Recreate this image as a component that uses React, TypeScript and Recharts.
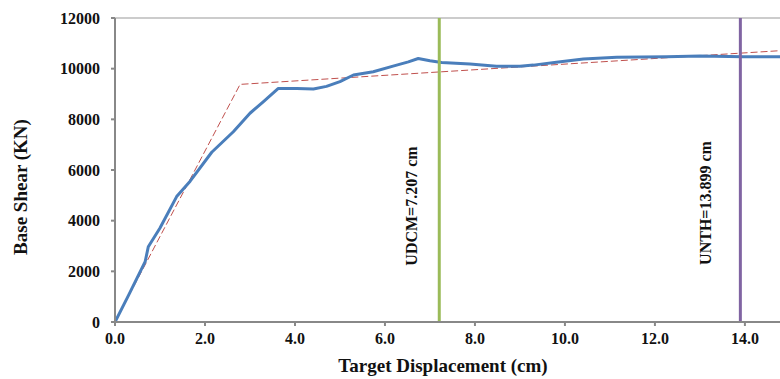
import { LineChart, Line, XAxis, YAxis, ReferenceLine, Label } from 'recharts';

// pushover curve (blue)
const pushoverDisp = [0, 0.3, 0.67, 0.74, 1.0, 1.37, 1.67, 2.15, 2.63, 3.0, 3.3, 3.63, 4.04, 4.41, 4.7, 5.0, 5.3, 5.74, 6.18, 6.52, 6.74, 7.0, 7.26, 7.89, 8.48, 9.0, 9.3, 9.81, 10.41, 11.15, 12.26, 13.0, 13.96, 14.78];
const pushoverShear = [0, 1050, 2380, 2970, 3710, 4950, 5560, 6700, 7510, 8240, 8700, 9220, 9220, 9200, 9300, 9490, 9750, 9880, 10100, 10270, 10400, 10310, 10240, 10180, 10100, 10100, 10140, 10250, 10380, 10450, 10470, 10500, 10470, 10470];

// idealised bilinear curve (red dashed)
const bilinearDisp = [0, 2.78, 14.78];
const bilinearShear = [0, 9380, 10710];

const xTicks = [0, 2, 4, 6, 8, 10, 12, 14];
const yTicks = [0, 2000, 4000, 6000, 8000, 10000, 12000];

const markers = [
  { x: 7.207, label: 'UDCM=7.207 cm', color: '#9BBB59', dx: -28, cy: 206 },
  { x: 13.899, label: 'UNTH=13.899 cm', color: '#8064A2', dx: -35, cy: 203 },
];

const pushoverData = pushoverDisp.map((d, i) => ({ d, v: pushoverShear[i] }));
const bilinearData = bilinearDisp.map((d, i) => ({ d, v: bilinearShear[i] }));

const FONT = '"Liberation Serif", "Times New Roman", serif';
const tickStyle = { fontFamily: FONT, fontWeight: 700, fontSize: 16, fill: '#111' };
const titleStyle = { fontFamily: FONT, fontWeight: 700, fontSize: 19, fill: '#111' };

export default function App() {
  return (
    <div style={{ position: 'absolute', left: 0, top: 0, background: '#fff' }}>
      <LineChart width={780} height={379} margin={{ top: 18, right: 0, bottom: 0, left: 0 }}>
        <XAxis
          type="number"
          dataKey="d"
          domain={[0, 14.78]}
          allowDataOverflow
          ticks={xTicks}
          tickFormatter={(v: number) => v.toFixed(1)}
          tick={tickStyle}
          stroke="#888"
          strokeWidth={2}
          tickSize={4}
          tickMargin={7}
          height={57}
        >
          <Label
            content={() => (
              <text x={443} y={372} textAnchor="middle" style={titleStyle}>
                Target Displacement (cm)
              </text>
            )}
          />
        </XAxis>
        <YAxis
          type="number"
          domain={[0, 12000]}
          ticks={yTicks}
          tick={tickStyle}
          stroke="#888"
          strokeWidth={2}
          tickSize={4}
          tickMargin={11}
          width={115}
        >
          <Label
            content={() => (
              <text
                x={20}
                y={187}
                transform="rotate(-90 20 187)"
                textAnchor="middle"
                dominantBaseline="central"
                style={titleStyle}
              >
                Base Shear (KN)
              </text>
            )}
          />
        </YAxis>
        <ReferenceLine y={12000} stroke="#999" strokeWidth={1} />
        <Line
          data={bilinearData}
          dataKey="v"
          type="linear"
          stroke="#C0504D"
          strokeWidth={1}
          strokeDasharray="7 3"
          dot={false}
          isAnimationActive={false}
        />
        <Line
          data={pushoverData}
          dataKey="v"
          type="linear"
          stroke="#4A7EBB"
          strokeWidth={3}
          strokeLinejoin="round"
          dot={false}
          isAnimationActive={false}
        />
        {markers.map((m) => (
          <ReferenceLine
            key={m.label}
            x={m.x}
            stroke={m.color}
            strokeWidth={3}
            label={(props: any) => {
              const vb = props.viewBox || {};
              const x = (vb.x ?? 0) + m.dx;
              return (
                <text
                  x={x}
                  y={m.cy}
                  transform={`rotate(-90 ${x} ${m.cy})`}
                  textAnchor="middle"
                  dominantBaseline="central"
                  style={{ fontFamily: FONT, fontWeight: 700, fontSize: 16, fill: '#111' }}
                >
                  {m.label}
                </text>
              );
            }}
          />
        ))}
      </LineChart>
    </div>
  );
}
